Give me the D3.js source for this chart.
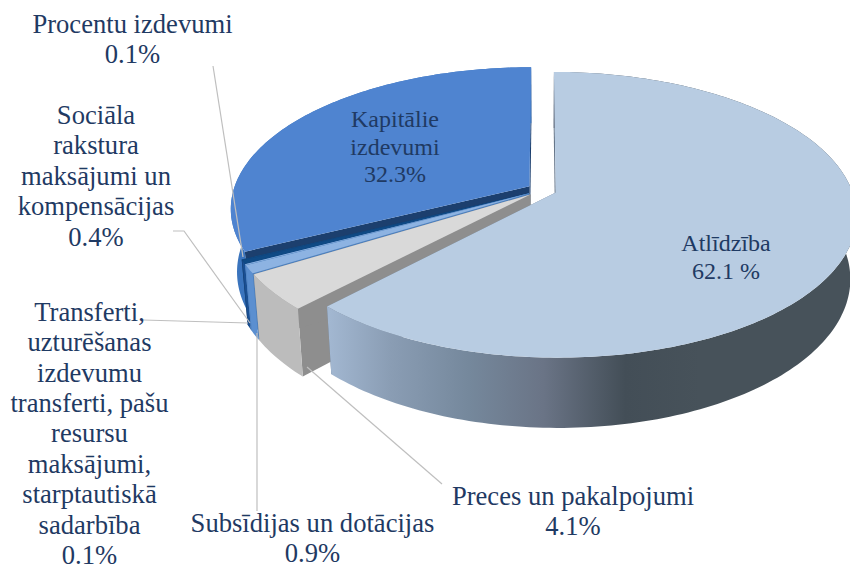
<!DOCTYPE html>
<html>
<head>
<meta charset="utf-8">
<script src="https://cdn.jsdelivr.net/npm/d3@7"></script>
<style>
    html, body { margin: 0; padding: 0; background: #fff; overflow: hidden; }
    text { font-family: "Liberation Serif", serif; font-size: 26.6px; fill: #1f3a63; text-anchor: middle; }
    text.inside { font-size: 24px; }
</style>
</head>
<body>
<svg id="chart" width="850" height="564"></svg>
<script>
// order is clockwise from 12 o'clock
var categories = ["Atlīdzība", "Preces un pakalpojumi", "Subsīdijas un dotācijas", "Transferti", "Sociāla rakstura maksājumi un kompensācijas", "Procentu izdevumi", "Kapitālie izdevumi"];
var values = [62.1, 4.1, 0.9, 0.1, 0.4, 0.1, 32.3];
var valueLabels = ["62.1 %", "4.1%", "0.9%", "0.1%", "0.4%", "0.1%", "32.3%"];
var labelLines = [
    ["Atlīdzība"],
    ["Preces un pakalpojumi"],
    ["Subsīdijas un dotācijas"],
    ["Transferti,", "uzturēšanas", "izdevumu", "transferti, pašu", "resursu", "maksājumi,", "starptautiskā", "sadarbība"],
    ["Sociāla", "rakstura", "maksājumi un", "kompensācijas"],
    ["Procentu izdevumi"],
    ["Kapitālie", "izdevumi"]
];

var topColours = ["#b8cce2", "#d9d9d9", "#8db3e2", "#8db3e2", "#0f4a85", "#0f4a85", "#4f84d0"];
var sideColours = ["url(#mainWall)", "#bcbcbc", "#5b8fd0", "#5b8fd0", "#1a4f92", "#17457f", "#3a74bd"];
var cutColours = ["#66768a", "#8e8e8e", "#4e80bd", "#4e80bd", "#17457f", "#16406f", "#1c3f6e"];

var labelX = [726, 573, 312.5, 89.5, 96, 132.5, 395];
var labelY = [251, 505, 532, 320.8, 124, 32.5, 127];
var lineGap = 30.4, insideGap = 27.5;
var insideLabels = [0, 6];

var leaders = [
    [[307, 367], [442, 484]],
    [[257, 333], [257, 511]],
    [[143, 320], [248, 323]],
    [[173, 231], [184, 231], [250, 323]],
    [[213, 66], [243, 257]]
];

var svg = d3.select("#chart");

// fake 3d: disc lying flat, seen from above with some perspective
var cx = 542, cy = 190, radius = 296, squash = 138.6, persp = 0.155;
var depth = 62, bottomScale = 0.98, explode = 0.05;

function project(px, pz, level) {
    var d = -pz;
    var s = 1 / (1 - persp * d);
    var f = level ? bottomScale : 1;
    return [cx + radius * px * s * f, cy + squash * d * s * f + level * depth * s];
}

var line = d3.line();

function anglesBetween(a0, a1) {
    var n = Math.max(2, Math.ceil((a1 - a0) / 0.02));
    return d3.range(n + 1).map((i) => a0 + (a1 - a0) * i / n);
}

function drawSlice(d, i) {
    var mid = (d.startAngle + d.endAngle) / 2;
    var ex = Math.sin(mid) * explode, ez = Math.cos(mid) * explode;
    var rim = (a, level) => project(Math.sin(a) + ex, Math.cos(a) + ez, level);
    var apex = (level) => project(ex, ez, level);
    var angles = anglesBetween(d.startAngle, d.endAngle);
    var g = svg.append("g").attr("class", "slice");

    // the two cut faces
    [d.startAngle, d.endAngle].forEach(function (a) {
        g.append("path")
            .attr("d", line([apex(0), rim(a, 0), rim(a, 1), apex(1)]) + "Z")
            .attr("fill", cutColours[i]);
    });

    // outer wall
    var wall = angles.map((a) => rim(a, 0)).concat(angles.slice().reverse().map((a) => rim(a, 1)));
    g.append("path")
        .attr("d", line(wall) + "Z")
        .attr("fill", sideColours[i]);

    // top
    var top = [apex(0)].concat(angles.map((a) => rim(a, 0)));
    g.append("path")
        .attr("d", line(top) + "Z")
        .attr("fill", topColours[i]);
}

function addGradient() {
    var stops = [[0, "#a3b8d2"], [0.17, "#8a9db4"], [0.38, "#75889c"], [0.58, "#6a7486"], [0.8, "#434e57"], [1, "#47525a"]];
    svg.append("defs").append("linearGradient")
        .attr("id", "mainWall")
        .attr("gradientUnits", "userSpaceOnUse")
        .attr("x1", 327).attr("x2", 700).attr("y1", 0).attr("y2", 0)
        .selectAll("stop")
        .data(stops)
        .enter()
        .append("stop")
        .attr("offset", (s) => s[0])
        .attr("stop-color", (s) => s[1]);
}

function drawLeaders() {
    svg.append("g")
        .selectAll("path")
        .data(leaders)
        .enter()
        .append("path")
        .attr("d", (d) => line(d))
        .attr("fill", "none")
        .attr("stroke", "#bfbfbf")
        .attr("stroke-width", 1.2);
}

function drawLabels() {
    categories.forEach(function (name, i) {
        var inside = insideLabels.includes(i);
        var lines = labelLines[i].concat([valueLabels[i]]);
        svg.append("text")
            .attr("class", inside ? "inside" : "label")
            .selectAll("tspan")
            .data(lines)
            .enter()
            .append("tspan")
            .attr("x", labelX[i])
            .attr("y", (t, j) => labelY[i] + j * (inside ? insideGap : lineGap))
            .text((t) => t);
    });
}

var pie = d3.pie().sort(null).value((d) => d);
var slices = pie(values);

addGradient();
// back slices first, the big one goes on top
d3.range(slices.length - 1, -1, -1).forEach((i) => drawSlice(slices[i], i));
drawLeaders();
drawLabels();
</script>
</body>
</html>
